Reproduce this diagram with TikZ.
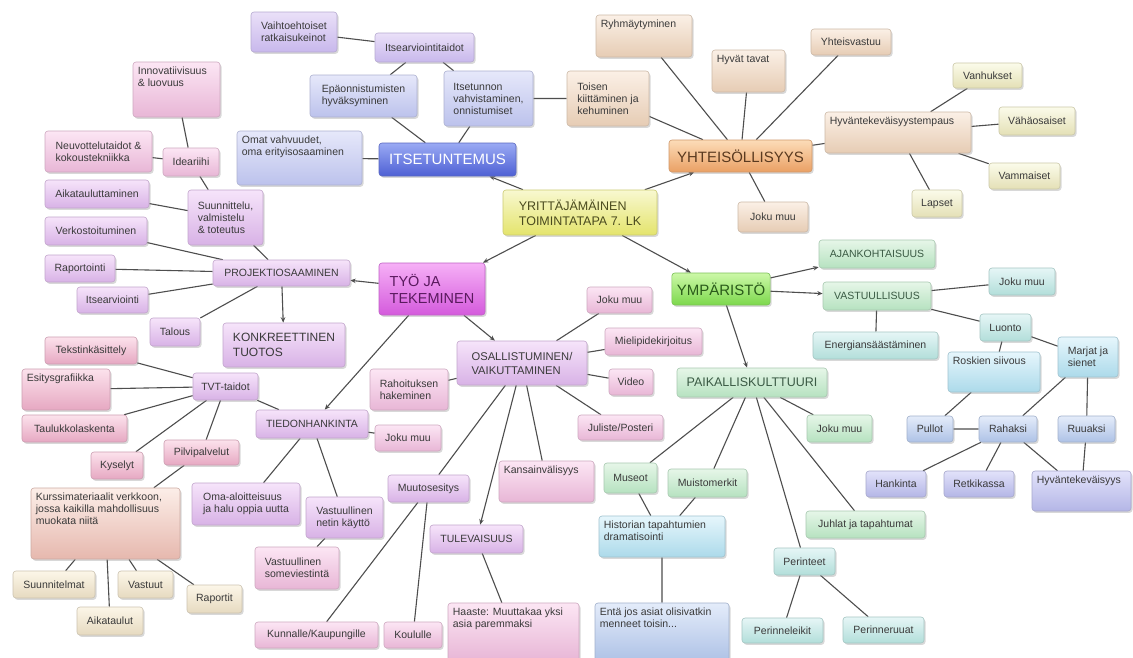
\documentclass[tikz,border=0pt]{standalone}
\usepackage{fontspec}
\setmainfont{Liberation Sans}
\usetikzlibrary{shadows,backgrounds,arrows.meta}

% text colours
\definecolor{ink}{HTML}{3A3A3A}
\definecolor{olv}{HTML}{4A4A1E}
\definecolor{brn}{HTML}{5A3A20}
\definecolor{dgr}{HTML}{2A5A1A}
\definecolor{gink}{HTML}{3A5A44}
\definecolor{dmg}{HTML}{5A1A5E}
% box colours, top and bottom of the shading
\definecolor{yelT}{HTML}{F8F8D0}\definecolor{yelB}{HTML}{E4E46C}
\definecolor{bluT}{HTML}{9AAAF4}\definecolor{bluB}{HTML}{4E60D4}
\definecolor{lavT}{HTML}{E6E8FA}\definecolor{lavB}{HTML}{BCC2EC}
\definecolor{lilT}{HTML}{EAE0F8}\definecolor{lilB}{HTML}{C8B8EC}
\definecolor{oraT}{HTML}{FCDCB8}\definecolor{oraB}{HTML}{EAA064}
\definecolor{peaT}{HTML}{FBF0E6}\definecolor{peaB}{HTML}{E6CCB4}
\definecolor{crmT}{HTML}{FBFBEA}\definecolor{crmB}{HTML}{E4E0B6}
\definecolor{grnT}{HTML}{CCF8A8}\definecolor{grnB}{HTML}{7CD84C}
\definecolor{mntT}{HTML}{E6F6E8}\definecolor{mntB}{HTML}{B6E2C0}
\definecolor{teaT}{HTML}{E6F6F6}\definecolor{teaB}{HTML}{B2DEDA}
\definecolor{cyaT}{HTML}{E6F6FC}\definecolor{cyaB}{HTML}{ACDAEA}
\definecolor{skyT}{HTML}{E4ECFA}\definecolor{skyB}{HTML}{AEC2E6}
\definecolor{perT}{HTML}{E2E2FA}\definecolor{perB}{HTML}{B4B6E6}
\definecolor{magT}{HTML}{F6B0F6}\definecolor{magB}{HTML}{D45ADC}
\definecolor{orcT}{HTML}{F6E4FA}\definecolor{orcB}{HTML}{D8B2E6}
\definecolor{pnkT}{HTML}{FCE6F4}\definecolor{pnkB}{HTML}{E8B6D6}
\definecolor{rosT}{HTML}{FCE2EC}\definecolor{rosB}{HTML}{E6A8C2}
\definecolor{slmT}{HTML}{FCEEE8}\definecolor{slmB}{HTML}{E6B8AE}
\definecolor{beiT}{HTML}{FCF6E8}\definecolor{beiB}{HTML}{E6DAC0}

\begin{document}
\begin{tikzpicture}[x=1pt,y=-1pt,>={Stealth[length=5.5pt,width=4.5pt]},
    fc/.style 2 args={top color=#1, bottom color=#2, draw=#2!75!gray},
    bx/.style={rectangle, rounded corners=3pt, line width=0.6pt, inner sep=5pt,
        align=left, text=ink, font=\fontsize{10.5}{12}\selectfont,
        drop shadow={shadow xshift=1.5pt, shadow yshift=-1.8pt, opacity=0.3}},
    wh/.style 2 args={minimum width=#1pt, minimum height=#2pt},
    lb/.style={anchor=north west, inner xsep=5pt, inner ysep=5pt, align=left,
        text=ink, font=\fontsize{10.5}{12}\selectfont},
    tl/.style={label={[lb]north west:{#1}}},
    ln/.style={draw=ink!90, line width=1.1pt},
    yel/.style={fc={yelT}{yelB}}, blu/.style={fc={bluT}{bluB}},
    lav/.style={fc={lavT}{lavB}}, lil/.style={fc={lilT}{lilB}},
    ora/.style={fc={oraT}{oraB}}, pea/.style={fc={peaT}{peaB}},
    crm/.style={fc={crmT}{crmB}}, grn/.style={fc={grnT}{grnB}},
    mnt/.style={fc={mntT}{mntB}}, tea/.style={fc={teaT}{teaB}},
    cya/.style={fc={cyaT}{cyaB}}, sky/.style={fc={skyT}{skyB}},
    per/.style={fc={perT}{perB}}, mag/.style={fc={magT}{magB}},
    orc/.style={fc={orcT}{orcB}}, pnk/.style={fc={pnkT}{pnkB}},
    ros/.style={fc={rosT}{rosB}}, slm/.style={fc={slmT}{slmB}},
    bei/.style={fc={beiT}{beiB}}]
\useasboundingbox (0,0) rectangle (1133,657);
\begin{scope}[on background layer]
    \fill[white] (0,0) rectangle (1133,657);
\end{scope}

% centre
\node[bx, yel, wh={154}{45}, font=\fontsize{12.5}{15}\selectfont, text=olv] (yrit) at (580,212.5) {YRITTÄJÄMÄINEN\\TOIMINTATAPA 7. LK};

% itsetuntemus
\node[bx, blu, wh={137}{33}, font=\fontsize{15}{17}\selectfont, text=white] (itsetunt) at (447.5,159.5) {ITSETUNTEMUS};
\node[bx, lav, wh={125}{54}, tl={Omat vahvuudet,\\oma erityisosaaminen}] (omat) at (299.5,158) {};
\node[bx, lav, wh={107}{42}] (epaon) at (363.5,96) {Epäonnistumisten\\hyväksyminen};
\node[bx, lav, wh={89}{55}] (itset) at (488.5,98.5) {Itsetunnon\\vahvistaminen,\\onnistumiset};
\node[bx, lil, wh={99}{29}] (itsarv) at (424.5,47.5) {Itsearviointitaidot};
\node[bx, lil, wh={86}{40}] (vaiht) at (294,32) {Vaihtoehtoiset\\ratkaisukeinot};

% yhteisollisyys
\node[bx, ora, wh={143}{32}, font=\fontsize{15}{17}\selectfont, text=brn] (yht) at (740.5,156) {YHTEISÖLLISYYS};
\node[bx, pea, wh={82}{55}] (toisen) at (608,98.5) {Toisen\\kiittäminen ja\\kehuminen};
\node[bx, pea, wh={96}{42}, tl={Ryhmäytyminen}] (ryhma) at (644,36) {};
\node[bx, pea, wh={73}{42}, tl={Hyvät tavat}] (hyvat) at (748.5,71) {};
\node[bx, pea, wh={80}{26}] (yhtvast) at (851,42) {Yhteisvastuu};
\node[bx, pea, wh={146}{41}, tl={Hyväntekeväisyystempaus}] (tempaus) at (898,132.5) {};
\node[bx, pea, wh={70}{30}] (jokuO) at (773,217) {Joku muu};
\node[bx, crm, wh={69}{25}] (vanh) at (987.5,75.5) {Vanhukset};
\node[bx, crm, wh={76}{28}] (vahao) at (1037,121) {Vähäosaiset};
\node[bx, crm, wh={71}{26}] (vamm) at (1024.5,176) {Vammaiset};
\node[bx, crm, wh={50}{27}] (lapset) at (937,203.5) {Lapset};

% ymparisto
\node[bx, grn, wh={98}{32}, font=\fontsize{15}{17}\selectfont, text=dgr] (ymp) at (721,289) {YMPÄRISTÖ};
\node[bx, mnt, wh={116}{28}, text=gink] (ajank) at (877,254) {AJANKOHTAISUUS};
\node[bx, mnt, wh={108}{28}, text=gink] (vastuul) at (877,296) {VASTUULLISUUS};
\node[bx, tea, wh={66}{27}] (jokuT) at (1022,281.5) {Joku muu};
\node[bx, tea, wh={125}{27}] (energ) at (875.5,345.5) {Energiansäästäminen};
\node[bx, tea, wh={51}{27}] (luonto) at (1005.5,327.5) {Luonto};
\node[bx, cya, wh={92}{40}, tl={Roskien siivous}] (roskat) at (994,372) {};
\node[bx, cya, wh={60}{40}] (marjat) at (1088,357) {Marjat ja\\sienet};
\node[bx, sky, wh={46}{26}] (pullot) at (930,429) {Pullot};
\node[bx, sky, wh={58}{26}] (rahaksi) at (1008,429) {Rahaksi};
\node[bx, sky, wh={57}{26}] (ruuaksi) at (1086.5,429) {Ruuaksi};
\node[bx, per, wh={60}{26}] (hankinta) at (896,484) {Hankinta};
\node[bx, per, wh={70}{26}] (retki) at (979,484) {Retkikassa};
\node[bx, per, wh={99}{40}, tl={Hyväntekeväisyys}] (hyvant) at (1081.5,491) {};
\node[bx, mnt, wh={150}{29}, font=\fontsize{12.5}{15}\selectfont, text=gink] (paik) at (752,382.5) {PAIKALLISKULTTUURI};
\node[bx, mnt, wh={65}{27}] (jokuP) at (839.5,428.5) {Joku muu};
\node[bx, mnt, wh={119}{27}] (juhlat) at (865.5,524.5) {Juhlat ja tapahtumat};
\node[bx, mnt, wh={53}{30}] (museot) at (630.5,478) {Museot};
\node[bx, mnt, wh={79}{28}] (muistom) at (707.5,483) {Muistomerkit};
\node[bx, cya, wh={126}{41}, tl={Historian tapahtumien\\dramatisointi}] (historia) at (662,536.5) {};
\node[bx, sky, wh={134}{58}, tl={Entä jos asiat olisivatkin\\menneet toisin...}] (entajos) at (662,632) {};
\node[bx, tea, wh={61}{27}] (perinteet) at (804.5,561.5) {Perinteet};
\node[bx, tea, wh={81}{25}] (perleikit) at (782.5,630.5) {Perinneleikit};
\node[bx, tea, wh={81}{26}] (perruuat) at (883.5,630) {Perinneruuat};

% tyo ja tekeminen
\node[bx, mag, wh={106}{52}, font=\fontsize{14.5}{17}\selectfont, text=dmg] (tyo) at (432,289) {TYÖ JA\\TEKEMINEN};
\node[bx, orc, wh={137}{26}] (projekt) at (281.5,273) {PROJEKTIOSAAMINEN};
\node[bx, orc, wh={122}{44}, font=\fontsize{12}{15}\selectfont] (konkr) at (284,345) {KONKREETTINEN\\TUOTOS};
\node[bx, orc, wh={75}{55}] (suunn) at (225.5,217.5) {Suunnittelu,\\valmistelu\\\& toteutus};
\node[bx, pnk, wh={56}{28}] (ideariihi) at (191,162) {Ideariihi};
\node[bx, pnk, wh={87}{55}, tl={Innovatiivisuus\\\& luovuus}] (innov) at (176.5,89.5) {};
\node[bx, pnk, wh={107}{41}] (neuvot) at (98.5,151.5) {Neuvottelutaidot \&\\kokoustekniikka};
\node[bx, orc, wh={104}{28}] (aikat) at (97,194) {Aikatauluttaminen};
\node[bx, orc, wh={102}{28}] (verkost) at (96,231) {Verkostoituminen};
\node[bx, orc, wh={70}{27}] (raport) at (80,268.5) {Raportointi};
\node[bx, orc, wh={71}{26}] (itsearv) at (112.5,300) {Itsearviointi};
\node[bx, orc, wh={50}{28}] (talous) at (175,332) {Talous};

\node[bx, orc, wh={130}{44}, font=\fontsize{11.2}{14}\selectfont] (osall) at (522,363) {OSALLISTUMINEN/\\VAIKUTTAMINEN};
\node[bx, pnk, wh={65}{26}] (jokuM) at (619.5,300) {Joku muu};
\node[bx, pnk, wh={97}{27}] (mielip) at (653.5,341.5) {Mielipidekirjoitus};
\node[bx, pnk, wh={44}{26}] (video) at (631,382) {Video};
\node[bx, pnk, wh={85}{25}] (juliste) at (620.5,427.5) {Juliste/Posteri};
\node[bx, pnk, wh={78}{41}] (rahoit) at (409,389.5) {Rahoituksen\\hakeminen};
\node[bx, pnk, wh={95}{41}, tl={Kansainvälisyys}] (kansv) at (546.5,481.5) {};
\node[bx, orc, wh={81}{27}] (muutos) at (428.5,488.5) {Muutosesitys};
\node[bx, orc, wh={93}{28}] (tulev) at (476.5,539) {TULEVAISUUS};
\node[bx, pnk, wh={131}{58}, tl={Haaste: Muuttakaa yksi\\asia paremmaksi}] (haaste) at (513.5,632) {};
\node[bx, pnk, wh={58}{26}] (koulu) at (413,635) {Koululle};
\node[bx, pnk, wh={123}{26}] (kunta) at (316.5,635) {Kunnalle/Kaupungille};

\node[bx, orc, wh={112}{28}] (tiedon) at (312,424) {TIEDONHANKINTA};
\node[bx, pnk, wh={66}{26}] (jokuL) at (408,438) {Joku muu};
\node[bx, orc, wh={108}{42}] (omaal) at (246,504) {Oma-aloitteisuus\\ja halu oppia uutta};
\node[bx, orc, wh={77}{41}] (netti) at (344.5,517.5) {Vastuullinen\\netin käyttö};
\node[bx, pnk, wh={84}{42}] (some) at (297,568) {Vastuullinen\\someviestintä};
\node[bx, orc, wh={65}{27}] (tvt) at (225.5,386.5) {TVT-taidot};
\node[bx, ros, wh={92}{27}] (tekst) at (91,350.5) {Tekstinkäsittely};
\node[bx, ros, wh={88}{41}, tl={Esitysgrafiikka}] (esitys) at (66,389.5) {};
\node[bx, ros, wh={105}{27}] (taulu) at (74.5,428.5) {Taulukkolaskenta};
\node[bx, ros, wh={52}{27}] (kyselyt) at (117,465.5) {Kyselyt};
\node[bx, ros, wh={75}{25}] (pilvi) at (201.5,452.5) {Pilvipalvelut};
\node[bx, slm, wh={149}{71}, tl={Kurssimateriaalit verkkoon,\\jossa kaikilla mahdollisuus\\muokata niitä}] (kurssi) at (105.5,523.5) {};
\node[bx, bei, wh={82}{27}] (suunnit) at (54,584.5) {Suunnitelmat};
\node[bx, bei, wh={55}{27}] (vastuut) at (145.5,584.5) {Vastuut};
\node[bx, bei, wh={55}{28}] (raportit) at (214.5,599) {Raportit};
\node[bx, bei, wh={66}{28}] (aikataulut) at (110,621) {Aikataulut};

% connectors
\begin{scope}[on background layer]
    \draw[ln,->] (yrit) -- (itsetunt);
    \draw[ln,->] (yrit) -- (yht);
    \draw[ln,->] (yrit) -- (tyo);
    \draw[ln,->] (yrit) -- (ymp);
    \draw[ln] (itsetunt) -- (omat) (itsetunt) -- (epaon) (itsetunt) -- (itset)
        (epaon) -- (itsarv) (itset) -- (itsarv) (itsarv) -- (vaiht) (itset) -- (toisen);
    \draw[ln] (yht) -- (toisen) (yht) -- (ryhma) (yht) -- (hyvat) (yht) -- (yhtvast)
        (yht) -- (tempaus) (yht) -- (jokuO);
    \draw[ln] (tempaus) -- (vanh) (tempaus) -- (vahao) (tempaus) -- (vamm) (tempaus) -- (lapset);
    \draw[ln,->] (ymp) -- (ajank);
    \draw[ln,->] (ymp) -- (vastuul);
    \draw[ln,->] (ymp) -- (paik);
    \draw[ln] (vastuul) -- (jokuT) (vastuul) -- (energ) (vastuul) -- (luonto)
        (luonto) -- (roskat) (luonto) -- (marjat) (roskat) -- (pullot) (pullot) -- (rahaksi)
        (marjat) -- (rahaksi) (marjat) -- (ruuaksi) (rahaksi) -- (hankinta)
        (rahaksi) -- (retki) (rahaksi) -- (hyvant) (ruuaksi) -- (hyvant);
    \draw[ln] (paik) -- (jokuP) (paik) -- (museot) (paik) -- (muistom) (paik) -- (perinteet)
        (paik) -- (juhlat) (museot) -- (historia) (muistom) -- (historia)
        (historia) -- (entajos) (perinteet) -- (perleikit) (perinteet) -- (perruuat);
    \draw[ln,->] (tyo) -- (projekt);
    \draw[ln,->] (tyo) -- (osall);
    \draw[ln,->] (tyo) -- (tiedon);
    \draw[ln,->] (projekt) -- (konkr);
    \draw[ln,->] (osall) -- (tulev);
    \draw[ln] (projekt) -- (suunn) (projekt) -- (verkost) (projekt) -- (raport)
        (projekt) -- (itsearv) (projekt) -- (talous) (suunn) -- (ideariihi)
        (suunn) -- (aikat) (ideariihi) -- (innov) (ideariihi) -- (neuvot);
    \draw[ln] (osall) -- (jokuM) (osall) -- (mielip) (osall) -- (video) (osall) -- (juliste)
        (osall) -- (rahoit) (osall) -- (kansv) (osall) -- (muutos)
        (muutos) -- (kunta) (muutos) -- (koulu) (tulev) -- (haaste);
    \draw[ln] (tiedon) -- (tvt) (tiedon) -- (jokuL) (tiedon) -- (omaal) (tiedon) -- (netti)
        (netti) -- (some) (tvt) -- (tekst) (tvt) -- (esitys) (tvt) -- (taulu)
        (tvt) -- (kyselyt) (tvt) -- (pilvi) (pilvi) -- (kurssi)
        (kurssi) -- (suunnit) (kurssi) -- (aikataulut) (kurssi) -- (vastuut) (kurssi) -- (raportit);
\end{scope}
\end{tikzpicture}
\end{document}
